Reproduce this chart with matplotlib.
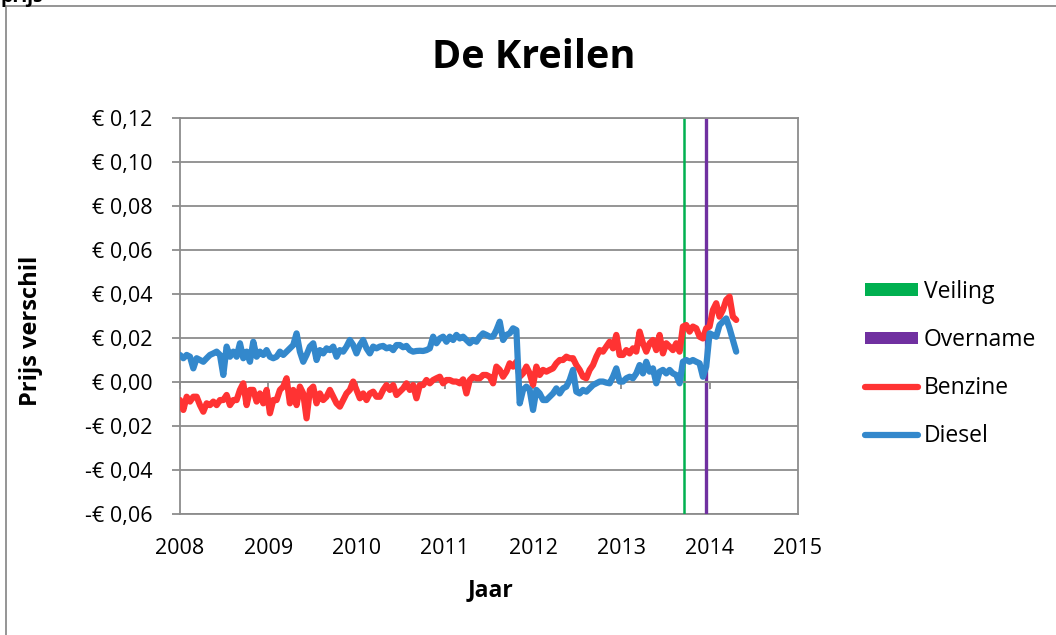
import numpy as np
import matplotlib
matplotlib.use('Agg')
import matplotlib.pyplot as plt
from matplotlib.lines import Line2D
from matplotlib.patches import Patch, Rectangle
from matplotlib.ticker import FuncFormatter

plt.rcParams['font.family'] = ['Open Sans', 'DejaVu Sans']

# ---------------- data ----------------
title = "De Kreilen"
x_label = "Jaar"
y_label = "Prijs verschil"

start_year = 2008.0
end_year = 2014.30          # roughly two-weekly observations

benzine = [
    -0.0082, -0.0127, -0.0067, -0.0089, -0.0067, -0.0067, -0.0105, -0.0135, -0.0097, -0.0105,
    -0.0089, -0.0105, -0.0082, -0.0082, -0.0059, -0.0105, -0.0082, -0.0082, -0.0036, -0.0006,
    -0.0105, -0.0036, -0.0036, -0.0089, -0.0052, -0.0097, -0.0036, -0.0142, -0.0082,
    -0.0082, -0.0036, -0.0021, 0.0017, -0.0097, -0.0036, -0.0105, -0.0021, -0.0052, -0.0165,
    -0.0036, -0.0021, -0.0097, -0.0052, -0.0082, -0.0067, -0.0036, -0.0067, -0.0097, -0.0112,
    -0.0082, -0.0052, -0.0036, 0.0002, -0.0036, -0.0074, -0.0052, -0.0082, -0.0052,
    -0.0044, -0.0067, -0.0067, -0.0036, -0.0014, -0.0036, -0.0014, -0.0059, -0.0044, -0.0029,
    -0.0006, -0.0036, -0.0014, -0.0074, -0.0014, -0.0014, 0.0009, -0.0006, 0.0009, 0.0017,
    0.0024, -0.0006, 0.0009, 0.0009, 0.0002, 0.0002, -0.0006, 0.0012,
    -0.0052, 0.0009, 0.0024, 0.0017, 0.0017, 0.0032, 0.0032, 0.0024, -0.0006, 0.0070,
    0.0055, 0.0024, 0.0047, 0.0085, 0.0070, 0.0092, 0.0024, 0.0039, 0.0070, 0.0039,
    -0.0014, 0.0070, 0.0032, 0.0055, 0.0047, 0.0055, 0.0062, 0.0085, 0.0100,
    0.0100, 0.0115, 0.0108, 0.0108, 0.0077, 0.0055, 0.0024, 0.0017, 0.0055, 0.0077,
    0.0115, 0.0145, 0.0138, 0.0161, 0.0183, 0.0153, 0.0214, 0.0123, 0.0123, 0.0145,
    0.0130, 0.0153, 0.0138, 0.0229, 0.0176, 0.0138, 0.0176, 0.0191,
    0.0145, 0.0214, 0.0130, 0.0176, 0.0161, 0.0145, 0.0176, 0.0138, 0.0252, 0.0259,
    0.0229, 0.0252, 0.0244, 0.0206, 0.0198, 0.0244, 0.0252, 0.0327, 0.0358, 0.0297,
    0.0327, 0.0373, 0.0388, 0.0297, 0.0282,
]

diesel = [
    0.0123, 0.0108, 0.0123, 0.0115, 0.0062, 0.0108, 0.0100, 0.0092, 0.0108, 0.0123,
    0.0130, 0.0138, 0.0123, 0.0032, 0.0161, 0.0115, 0.0138, 0.0115, 0.0176, 0.0108,
    0.0138, 0.0092, 0.0183, 0.0115, 0.0138, 0.0123, 0.0145, 0.0115, 0.0108,
    0.0115, 0.0138, 0.0123, 0.0138, 0.0153, 0.0168, 0.0221, 0.0138, 0.0092, 0.0123,
    0.0161, 0.0176, 0.0100, 0.0145, 0.0130, 0.0153, 0.0145, 0.0161, 0.0115, 0.0145,
    0.0138, 0.0161, 0.0191, 0.0168, 0.0130, 0.0168, 0.0191, 0.0153, 0.0130,
    0.0161, 0.0153, 0.0161, 0.0164, 0.0153, 0.0158, 0.0145, 0.0168, 0.0168, 0.0158,
    0.0164, 0.0145, 0.0138, 0.0141, 0.0142, 0.0141, 0.0145, 0.0153, 0.0206, 0.0176,
    0.0198, 0.0206, 0.0183, 0.0206, 0.0191, 0.0214, 0.0198, 0.0206,
    0.0191, 0.0176, 0.0191, 0.0183, 0.0206, 0.0221, 0.0214, 0.0206, 0.0206, 0.0236,
    0.0274, 0.0191, 0.0214, 0.0221, 0.0244, 0.0236, -0.0097, -0.0036, -0.0021, -0.0036,
    -0.0127, -0.0036, -0.0052, -0.0082, -0.0082, -0.0067, -0.0052, -0.0029, -0.0052,
    -0.0029, -0.0021, 0.0009, 0.0055, -0.0044, -0.0052, -0.0036, -0.0044, -0.0029, -0.0014,
    -0.0006, 0.0002, 0.0002, -0.0003, -0.0006, 0.0024, 0.0062, 0.0002, 0.0002, 0.0017,
    0.0024, 0.0017, 0.0039, 0.0077, 0.0039, 0.0092, 0.0047, 0.0062,
    -0.0006, 0.0047, 0.0055, 0.0039, 0.0055, 0.0039, 0.0032, -0.0006, 0.0092, 0.0100,
    0.0092, 0.0100, 0.0092, 0.0085, 0.0024, 0.0070, 0.0221, 0.0214, 0.0206, 0.0259,
    0.0274, 0.0289, 0.0244, 0.0191, 0.0138,
]

veiling_year = 2013.71
overname_year = 2013.96

x_ticks = [2008, 2009, 2010, 2011, 2012, 2013, 2014, 2015]
y_ticks = [-0.06, -0.04, -0.02, 0.00, 0.02, 0.04, 0.06, 0.08, 0.10, 0.12]

series_labels = ["Veiling", "Overname", "Benzine", "Diesel"]
# --------------------------------------

C_GREEN = '#00B050'
C_PURPLE = '#7030A0'
C_RED = '#FF3333'
C_BLUE = '#3388CC'
C_GRID = '#8C8C8C'

years = np.linspace(start_year, end_year, len(benzine))

W, H = 1056, 635
fig = plt.figure(figsize=(W / 100, H / 100), dpi=100)
fig.patch.set_facecolor('white')

# outer chart border (partially cut off in the reference)
fig.add_artist(Rectangle((6 / W, -0.05), 1.2, 1 - 6 / H + 0.05, transform=fig.transFigure,
                         fill=False, edgecolor=C_GRID, lw=1.3))
fig.text(0.0, 1 - 2 / H, "prijs", fontsize=14, fontweight='bold', va='baseline', ha='left')

ax = fig.add_axes([180 / W, 1 - 514 / H, 618 / W, 396 / H])
ax.set_xlim(x_ticks[0], x_ticks[-1])
ax.set_ylim(y_ticks[0], y_ticks[-1])

ax.set_yticks(y_ticks)
ax.yaxis.grid(True, color=C_GRID, lw=1.3)
ax.set_axisbelow(True)


def euro(v, pos=None):
    s = f"{abs(v):.2f}".replace('.', ',')
    return ("-€ " if v < -1e-9 else "€ ") + s


ax.yaxis.set_major_formatter(FuncFormatter(euro))
ax.tick_params(axis='y', direction='out', length=6, color=C_GRID, width=1.3,
               labelsize=15.5, pad=14)

for side in ('left', 'right', 'top'):
    ax.spines[side].set_color(C_GRID)
    ax.spines[side].set_linewidth(1.3)
ax.spines['bottom'].set_position(('data', 0))
ax.spines['bottom'].set_color(C_GRID)
ax.spines['bottom'].set_linewidth(1.3)
ax.set_xticks(x_ticks)
ax.tick_params(axis='x', direction='out', length=5, color=C_GRID, width=1.3,
               labelbottom=False)

sec = ax.secondary_xaxis('bottom')
sec.set_xticks(x_ticks)
sec.set_xticklabels([str(t) for t in x_ticks])
sec.tick_params(axis='x', length=0, labelsize=15.5, pad=17)
sec.spines['bottom'].set_color(C_GRID)
sec.spines['bottom'].set_linewidth(1.3)

ax.axvline(veiling_year, color=C_GREEN, lw=1.8, zorder=1.5)
ax.axvline(overname_year, color=C_PURPLE, lw=2.4, zorder=1.5)
ax.plot(years, benzine, color=C_RED, lw=4.5, solid_joinstyle='round',
        solid_capstyle='round', zorder=3)
ax.plot(years, diesel, color=C_BLUE, lw=4.5, solid_joinstyle='round',
        solid_capstyle='round', zorder=4)

fig.text(534 / W, 1 - 58 / H, title, fontsize=28.5, fontweight='bold',
         ha='center', va='center')
fig.text(31 / W, 1 - 331 / H, y_label, fontsize=17, fontweight='bold',
         rotation=90, ha='center', va='center')
fig.text(490 / W, 1 - 590 / H, x_label, fontsize=16.5, fontweight='bold',
         ha='center', va='center')

handles = [Patch(facecolor=C_GREEN, edgecolor='none'),
           Patch(facecolor=C_PURPLE, edgecolor='none'),
           Line2D([], [], color=C_RED, lw=4.5, solid_capstyle='round'),
           Line2D([], [], color=C_BLUE, lw=4.5, solid_capstyle='round')]
fig.legend(handles, series_labels, loc='center left',
           bbox_to_anchor=(854 / W, 1 - 364 / H), frameon=False,
           fontsize=16.5, handlelength=2.3, handleheight=0.45, handletextpad=0.25,
           labelspacing=1.06, borderpad=0)

fig.savefig('out.png', dpi=100)
